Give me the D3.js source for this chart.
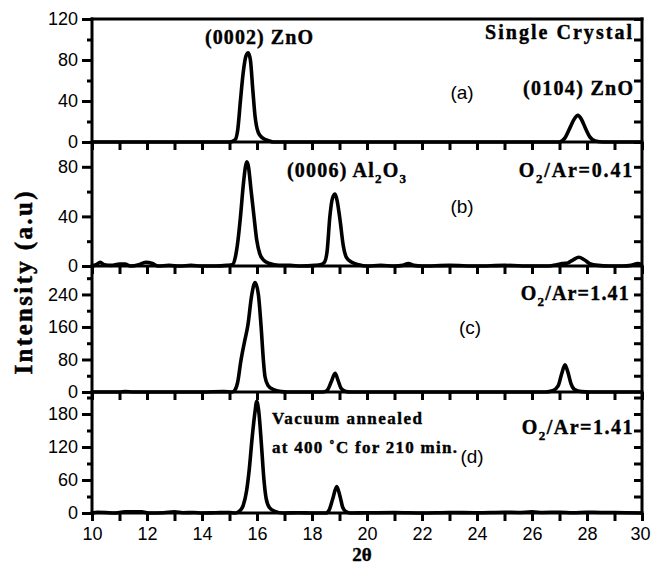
<!DOCTYPE html>
<html><head><meta charset="utf-8">
<script src="https://cdn.jsdelivr.net/npm/d3@7"></script>
<style>html,body{margin:0;padding:0;background:#fff;}svg{display:block;}</style>
</head><body>
<svg id="chart" width="651" height="566"></svg>
<script>
// ---------- DATA ----------
const xTicks = [10, 12, 14, 16, 18, 20, 22, 24, 26, 28, 30];
const xMinor = d3.range(10, 31, 1);

const specA = [[10,0],[15.0,0],[15.2,2],[15.3,12],[15.4,41],[15.5,68],[15.6,84],[15.68,87],[15.76,80],[15.85,50],[15.93,25],[16.05,9],[16.2,4],[16.45,1],[16.6,0],
  [27.0,0],[27.2,4],[27.4,15],[27.55,23],[27.67,26],[27.8,22],[27.95,13],[28.1,5],[28.3,1],[28.6,0],[30,0]];

const specB = [[10,0],[10.15,1],[10.3,3],[10.45,1],[10.7,0.5],[11.0,1.5],[11.2,1.5],[11.4,0],[11.7,1],[11.95,3],[12.2,2],[12.4,0],[12.8,0.5],[13.2,0],[13.6,0.5],[14,0],[14.5,0],[14.9,0.5],
  [15.1,1],[15.22,8],[15.31,21],[15.4,40],[15.5,65],[15.58,80],[15.63,84],[15.69,80],[15.78,62],[15.89,40],[15.99,21],[16.1,10],[16.23,5],[16.45,2],[16.8,0.5],
  [17.2,0.5],[17.6,0],[18.1,0.5],[18.3,1],[18.45,3],[18.55,12],[18.65,40],[18.75,55],[18.84,58],[18.92,52],[19.02,37],[19.14,16],[19.25,7],[19.45,3],[19.7,1],
  [20,0],[20.5,0.5],[21,0],[21.3,0.5],[21.5,2],[21.7,0.5],[22,0],[23,0.5],[24,0],[25,0.5],[26,0],[26.6,0],[26.9,1],[27.1,2],[27.3,2.5],[27.5,5],[27.7,7],[27.9,5],[28.1,2],[28.4,0.5],[28.8,0],[29.3,0],[29.6,0.5],[29.85,2],[30,1]];

const specC = [[10,0],[11,0],[11.2,1],[11.5,0],[13,0],[14,0],[14.8,1],
  [15.1,0],[15.2,5],[15.3,25],[15.41,75],[15.55,125],[15.67,165],[15.8,235],[15.93,269],[16.05,240],[16.15,160],[16.23,80],[16.29,38],[16.4,16],[16.6,6],[16.9,1],[17.1,0],
  [18.4,0],[18.55,4],[18.7,25],[18.84,46],[18.95,28],[19.05,10],[19.2,2],[19.4,0],
  [26.5,0],[26.75,3],[26.95,15],[27.08,45],[27.2,67],[27.3,50],[27.42,20],[27.55,6],[27.8,1],[28.1,0],[30,0]];

const specD = [[10,0],[10.2,1.5],[10.5,1],[10.8,0],[11.2,2],[11.8,2],[12.1,0],[12.6,0.5],[13.0,2],[13.3,0.5],[13.7,1],[14,0],[14.5,0.5],[15,1],
  [15.2,0],[15.35,3],[15.5,14],[15.62,40],[15.72,80],[15.82,135],[15.93,185],[15.99,203],[16.07,182],[16.16,125],[16.25,62],[16.33,27],[16.45,10],[16.65,3],[16.95,0],
  [17.5,0.5],[18,0],[18.5,0],[18.62,5],[18.75,25],[18.9,48],[19.02,30],[19.12,10],[19.25,2],[19.4,0],
  [20,0.5],[21,1],[22,0],[23,1],[24,0.5],[25,1.5],[25.5,1],[26,2],[26.4,1],[27,1.5],[27.5,0.5],[28,1.5],[28.5,1],[29,1],[30,0]];

const yMajorA = [0, 40, 80, 120],  yMinorA = [20, 60, 100];
const yMajorB = [0, 40, 80],       yMinorB = [20, 60, 100];
const yMajorC = [0, 80, 160, 240], yMinorC = [40, 120, 200, 280];
const yMajorD = [0, 60, 120, 180], yMinorD = [30, 90, 150, 210];

// ---------- LAYOUT ----------
const svg = d3.select("#chart");
const L = 92, R = 642;
const x = d3.scaleLinear().domain([10, 30]).range([L, R]);

const panels = [
  {data: specA, dom: [0,120], top: 19,  bot: 142, major: yMajorA, minor: yMinorA, rstep: 20},
  {data: specB, dom: [0,100], top: 142, bot: 266, major: yMajorB, minor: yMinorB, rstep: 20},
  {data: specC, dom: [0,310], top: 266, bot: 392, major: yMajorC, minor: yMinorC, rstep: 40},
  {data: specD, dom: [0,220], top: 392, bot: 513, major: yMajorD, minor: yMinorD, rstep: 30},
];

const sans = "Arial, 'Liberation Sans', Helvetica, sans-serif";
const serif = "'Times New Roman', 'Liberation Serif', serif";

panels.forEach((p, i) => {
  const y = d3.scaleLinear().domain(p.dom).range([p.bot, p.top]);
  const g = svg.append("g");
  g.append("path").datum(p.data)
    .attr("d", d3.line().x(d => x(d[0])).y(d => y(d[1])).curve(d3.curveMonotoneX))
    .attr("fill", "none").attr("stroke", "#000").attr("stroke-width", 3.6).attr("stroke-linejoin", "round");
  const ax = d3.axisLeft(y).tickValues(p.major).tickSize(10).tickPadding(4).tickFormat(d3.format("d"));
  const ga = g.append("g").attr("transform", `translate(${L},0)`).call(ax);
  ga.select(".domain").remove();
  ga.selectAll(".tick line").attr("stroke-width", 3);
  ga.selectAll(".tick text").attr("font-family", sans).attr("font-size", 18).attr("fill", "#000");
  const axm = d3.axisLeft(y).tickValues(p.minor.filter(v => v <= p.dom[1])).tickSize(5).tickFormat("");
  const gm = g.append("g").attr("transform", `translate(${L},0)`).call(axm);
  gm.select(".domain").remove();
  gm.selectAll(".tick line").attr("stroke-width", 3);
  const rt = d3.range(p.rstep, p.dom[1] + 0.001, p.rstep);
  const ar = d3.axisLeft(y).tickValues(rt).tickSize(8).tickFormat("");
  const gr = g.append("g").attr("transform", `translate(${R},0)`).call(ar);
  gr.select(".domain").remove();
  gr.selectAll(".tick line").attr("stroke-width", 3);
  const bx = d3.axisBottom(x).tickValues(xMinor).tickSize(8).tickPadding(6).tickFormat(i === 3 ? null : "");
  const gb = g.append("g").attr("transform", `translate(0,${p.bot})`).call(bx);
  gb.select(".domain").remove();
  gb.selectAll(".tick line").attr("stroke-width", 3);
  if (i === 3) {
    gb.selectAll(".tick text").attr("font-family", sans).attr("font-size", 18).attr("fill", "#000")
      .text(d => xTicks.includes(d) ? d : "")
      .attr("text-anchor", d => d === 30 ? "end" : "middle")
      .attr("dx", d => d === 30 ? 8 : 0);
  }
  g.append("line").attr("x1", L - 1.5).attr("x2", R + 1.5).attr("y1", p.bot).attr("y2", p.bot).attr("stroke", "#000").attr("stroke-width", 3);
});

svg.append("line").attr("x1", L - 1.5).attr("x2", R + 1.5).attr("y1", 19).attr("y2", 19).attr("stroke", "#000").attr("stroke-width", 3);
svg.append("line").attr("x1", L).attr("x2", L).attr("y1", 17.5).attr("y2", 514.5).attr("stroke", "#000").attr("stroke-width", 3);
svg.append("line").attr("x1", R).attr("x2", R).attr("y1", 17.5).attr("y2", 514.5).attr("stroke", "#000").attr("stroke-width", 3);

// ---------- TEXT ----------
function btxt(s, xx, yy, len, size) {
  const t = svg.append("text").attr("x", xx).attr("y", yy)
    .attr("font-family", serif).attr("font-weight", "bold").attr("font-size", size || 20).attr("fill", "#000")
    .attr("stroke", "#000").attr("stroke-width", 0.4);
  if (len) t.attr("textLength", len).attr("lengthAdjust", "spacing");
  t.text(s);
  return t;
}
function stxt(s, xx, yy) {
  svg.append("text").attr("x", xx).attr("y", yy).attr("text-anchor", "middle")
    .attr("font-family", sans).attr("font-size", 19).attr("fill", "#000").text(s);
}

btxt("(0002) ZnO", 205, 44, 108);
btxt("Single Crystal", 485, 39, 147);
btxt("(0104) ZnO", 523, 95, 110);
stxt("(a)", 462, 99);

function rich(parts, xx, yy, anchor, ls) {
  const t = svg.append("text").attr("x", xx).attr("y", yy).attr("text-anchor", anchor)
    .attr("font-family", serif).attr("font-weight", "bold").attr("font-size", 20).attr("fill", "#000")
    .attr("stroke", "#000").attr("stroke-width", 0.4).attr("letter-spacing", ls);
  parts.forEach(([s, sub]) => {
    const ts = t.append("tspan").text(s);
    if (sub) ts.attr("font-size", 13).attr("dy", 6);
    else if (ts.node().previousSibling) ts.attr("dy", -6);
  });
}
rich([["(0006) Al"],["2",1],["O"],["3",1]], 287, 177, "start", 1.2);
rich([["O"],["2",1],["/Ar=0.41"]], 634, 177, "end", 1.8);
stxt("(b)", 462, 213);

rich([["O"],["2",1],["/Ar=1.41"]], 630, 300, "end", 1.2);
stxt("(c)", 470, 334);

btxt("Vacuum annealed", 272, 424, 150, 17);
btxt("at 400 \u02DAC for 210 min.", 272, 453, 185, 17);
stxt("(d)", 472, 463);
rich([["O"],["2",1],["/Ar=1.41"]], 634, 434, "end", 1.5);

svg.append("text").attr("transform", "translate(32,283) rotate(-90)").attr("text-anchor", "middle")
  .attr("font-family", serif).attr("font-weight", "bold").attr("font-size", 25).attr("fill", "#000")
  .attr("stroke", "#000").attr("stroke-width", 0.5)
  .attr("textLength", 183).attr("lengthAdjust", "spacing").text("Intensity (a.u)");
svg.append("text").attr("x", 362).attr("y", 561).attr("text-anchor", "middle")
  .attr("font-family", serif).attr("font-weight", "bold").attr("font-size", 19).attr("fill", "#000")
  .attr("stroke", "#000").attr("stroke-width", 0.4).text("2\u03B8");
</script>
</body></html>
